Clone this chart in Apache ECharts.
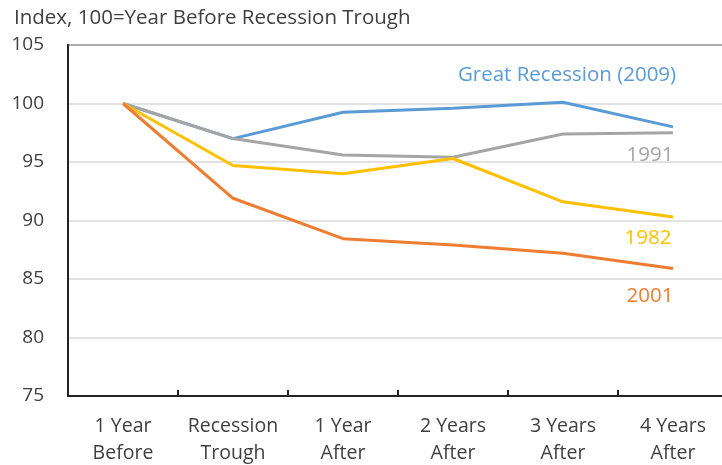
<!DOCTYPE html>
<html>
<head>
<meta charset="utf-8">
<script src="https://cdn.jsdelivr.net/npm/echarts@6/dist/echarts.min.js"></script>
<style>html,body{margin:0;padding:0;background:#fff;}#c{width:722px;height:465px;}</style>
</head>
<body>
<div id="c"></div>
<script>
const categories = ['1 Year\nBefore', 'Recession\nTrough', '1 Year\nAfter', '2 Years\nAfter', '3 Years\nAfter', '4 Years\nAfter'];
const greatRecession = [100, 97.0, 99.25, 99.6, 100.1, 98.0];
const y1991 = [100, 97.0, 95.6, 95.4, 97.4, 97.5];
const y1982 = [100, 94.7, 94.0, 95.3, 91.6, 90.3];
const y2001 = [100, 91.9, 88.45, 87.9, 87.2, 85.9];
const yTicks = [75, 80, 85, 90, 95, 100, 105];

const FONT = 'Open Sans';
function mk(name, data, color, offset) {
  return {
    name: name, type: 'line', data: data.map((v, i) => i === data.length - 1 ? {
      value: v,
      label: { show: true, position: 'inside', offset: offset, formatter: name, color: color,
        fontFamily: FONT, fontSize: 20.5, align: 'center', verticalAlign: 'middle' }
    } : v),
    symbol: 'circle', symbolSize: 0.01, showSymbol: true,
    lineStyle: { color: color, width: 3 }, itemStyle: { color: color },
    emphasis: { disabled: true }, animation: false, z: 3
  };
}
const chart = echarts.init(document.getElementById('c'));
chart.setOption({
  animation: false,
  title: { text: 'Index, 100=Year Before Recession Trough', left: 9, top: 3,
    textStyle: { fontFamily: FONT, fontSize: 20.5, fontWeight: 'normal', color: '#404040' } },
  grid: { left: 68, right: -6, top: 45, bottom: 69, show: true, borderColor: '#222', borderWidth: 2,
    backgroundColor: 'transparent', containLabel: false, outerBoundsMode: 'none' },
  xAxis: {
    type: 'category', data: categories, boundaryGap: true,
    axisLine: { lineStyle: { color: '#222', width: 2 } },
    axisTick: { show: true, inside: true, length: 6, lineStyle: { color: '#222', width: 2 } },
    axisLabel: { fontFamily: FONT, fontSize: 19.5, color: '#404040', lineHeight: 27, margin: 17, interval: 0 }
  },
  yAxis: {
    type: 'value', min: yTicks[0], max: yTicks[yTicks.length - 1], interval: 5,
    axisLine: { show: true, lineStyle: { color: '#222', width: 2 } },
    axisTick: { show: false },
    splitLine: { lineStyle: { color: '#d9d9d9', width: 1.5 } },
    axisLabel: { fontFamily: FONT, fontSize: 19, color: '#404040', margin: 24 }
  },
  series: [
    mk('Great Recession (2009)', greatRecession, '#5B9BD5', [-106, -52]),
    mk('1991', y1991, '#A5A5A5', [-23, 22]),
    mk('1982', y1982, '#FFC000', [-25, 21]),
    mk('2001', y2001, '#ED7D31', [-23, 28])
  ]
});
</script>
</body>
</html>
